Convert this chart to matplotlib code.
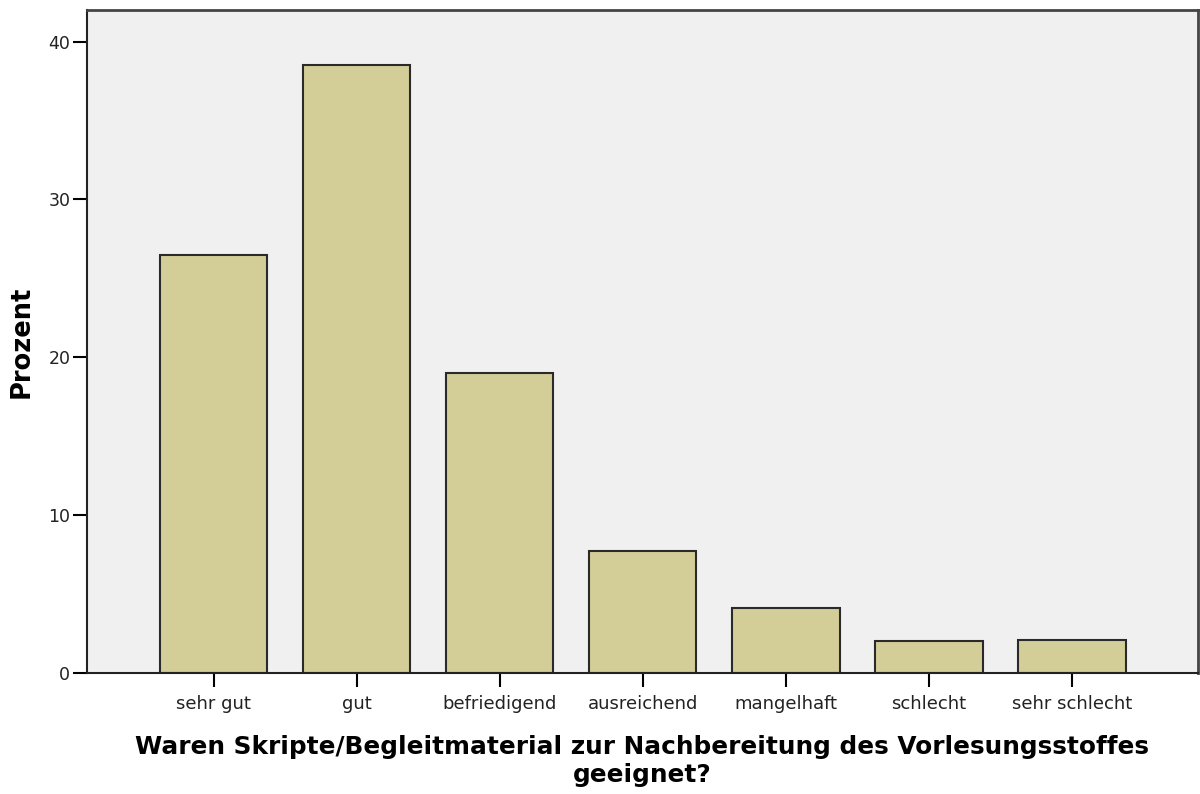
import matplotlib
matplotlib.use("Agg")
import matplotlib.pyplot as plt

categories = ["sehr gut", "gut", "befriedigend", "ausreichend",
              "mangelhaft", "schlecht", "sehr schlecht"]
prozent = [26.5, 38.5, 19.0, 7.7, 4.1, 2.0, 2.1]
y_ticks = [0, 10, 20, 30, 40]

plt.rcParams['font.family'] = ['DejaVu Sans']

fig = plt.figure(figsize=(12, 7.94), dpi=100)
ax = fig.add_axes([0.0725, 0.1524, 0.9258, 0.835])
ax.set_facecolor("#f0f0f0")

x = range(len(categories))
ax.bar(x, prozent, width=0.75, color="#d3ce97", edgecolor="#2a2a2a", linewidth=1.5)

ax.set_xlim(-0.885, 6.88)
ax.set_ylim(0, 42)
ax.set_yticks(y_ticks)
ax.set_xticks(list(x))
ax.set_xticklabels(categories, fontsize=13, color="#222222")
ax.tick_params(axis="y", labelsize=12.5, length=10, width=1.5, pad=2, labelcolor="#222222")
ax.tick_params(axis="x", length=10, width=1.5, pad=6)

for side in ["left", "bottom"]:
    ax.spines[side].set_linewidth(1.5)
    ax.spines[side].set_color("#222222")
for side in ["top", "right"]:
    ax.spines[side].set_linewidth(2)
    ax.spines[side].set_color("#444444")

ax.set_ylabel("Prozent", fontsize=18.5, fontweight="bold", labelpad=10)
ax.set_xlabel("Waren Skripte/Begleitmaterial zur Nachbereitung des Vorlesungsstoffes\ngeeignet?",
              fontsize=17.8, fontweight="bold", labelpad=16, linespacing=1.2)

fig.savefig("out.png", dpi=100)
